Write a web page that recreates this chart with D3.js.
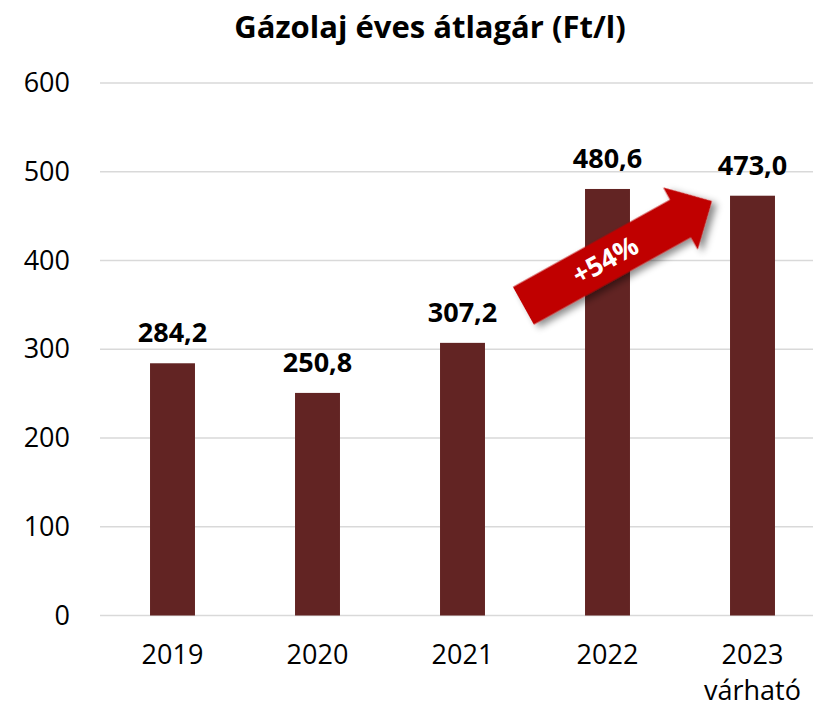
<!DOCTYPE html>
<html>
<head>
<meta charset="utf-8">
<script src="https://cdn.jsdelivr.net/npm/d3@7"></script>
<style>
  body { margin: 0; background: #fff; }
  svg text { font-family: "Open Sans", sans-serif; }
</style>
</head>
<body>
<div id="chart"></div>
<script>
// Chart data
var years = ['2019', '2020', '2021', '2022', '2023'];
var yearSub = ['', '', '', '', 'várható'];
var prices = [284.2, 250.8, 307.2, 480.6, 473.0];
var priceLabels = ['284,2', '250,8', '307,2', '480,6', '473,0'];
var yTicks = [0, 100, 200, 300, 400, 500, 600];
var arrowText = '+54%';
// arrow ends in data units: [year band, offset in steps, value]
var arrowFrom = ['2021', 0.42, 349];
var arrowTo = ['2023', -0.28, 467];

var width = 813, height = 707;

var svg = d3.select('#chart')
    .append('svg')
    .attr('width', width)
    .attr('height', height);

// Scales
var x = d3.scaleBand()
    .domain(years)
    .range([100, 825])
    .paddingInner(0.69)
    .paddingOuter(0.345);

var y = d3.scaleLinear()
    .domain([0, 600])
    .range([615.5, 83]);

// Title
svg.append('text')
    .attr('x', 430)
    .attr('y', 38)
    .attr('text-anchor', 'middle')
    .attr('font-size', 31)
    .attr('font-weight', 'bold')
    .text('Gázolaj éves átlagár (Ft/l)');

// Gridlines
svg.append('g')
    .selectAll('line')
    .data(yTicks)
    .enter()
    .append('line')
        .attr('x1', 100)
        .attr('x2', width)
        .attr('y1', function(d) { return y(d); })
        .attr('y2', function(d) { return y(d); })
        .attr('stroke', '#d9d9d9')
        .attr('stroke-width', 1.5);

// Y axis labels
var yAxis = d3.axisLeft(y).tickValues(yTicks).tickSize(0).tickPadding(0);
svg.append('g')
    .attr('transform', 'translate(70,0)')
    .call(yAxis)
    .call(function(g) { g.select('.domain').remove(); })
    .selectAll('text')
        .attr('font-size', 27)
        .attr('fill', '#000')
        .style('font-family', '"Open Sans", sans-serif');

// Bars
svg.append('g')
    .selectAll('rect')
    .data(prices)
    .enter()
    .append('rect')
        .attr('x', function(d, i) { return x(years[i]); })
        .attr('y', function(d) { return y(d); })
        .attr('width', x.bandwidth())
        .attr('height', function(d) { return y(0) - y(d); })
        .attr('fill', '#622423');

// Value labels
svg.append('g')
    .selectAll('text')
    .data(prices)
    .enter()
    .append('text')
        .attr('x', function(d, i) { return x(years[i]) + x.bandwidth() / 2; })
        .attr('y', function(d) { return y(d) - 21; })
        .attr('text-anchor', 'middle')
        .attr('font-size', 27)
        .attr('font-weight', 'bold')
        .text(function(d, i) { return priceLabels[i]; });

// X axis labels
svg.append('g')
    .selectAll('text')
    .data(years)
    .enter()
    .append('text')
        .attr('x', function(d) { return x(d) + x.bandwidth() / 2; })
        .attr('y', 664)
        .attr('text-anchor', 'middle')
        .attr('font-size', 27)
        .text(function(d) { return d; });
svg.append('g')
    .selectAll('text')
    .data(years.filter(function(d, i) { return yearSub[i]; }))
    .enter()
    .append('text')
        .attr('x', function(d) { return x(d) + x.bandwidth() / 2; })
        .attr('y', 700)
        .attr('text-anchor', 'middle')
        .attr('font-size', 27)
        .text(function(d) { return yearSub[years.indexOf(d)]; });

// Arrow annotation
var defs = svg.append('defs');
var filt = defs.append('filter')
    .attr('id', 'shadow')
    .attr('x', '-20%').attr('y', '-20%')
    .attr('width', '140%').attr('height', '160%');
filt.append('feDropShadow')
    .attr('dx', 3).attr('dy', 5)
    .attr('stdDeviation', 3.5)
    .attr('flood-color', '#000')
    .attr('flood-opacity', 0.45);

function pt(a) {
    return [x(a[0]) + x.bandwidth() / 2 + a[1] * x.step(), y(a[2])];
}
var p0 = pt(arrowFrom), p1 = pt(arrowTo);
var len = Math.hypot(p1[0] - p0[0], p1[1] - p0[1]);
var ang = Math.atan2(p1[1] - p0[1], p1[0] - p0[0]) * 180 / Math.PI;
var sw = 21.5, hw = 35.5, hl = 36;

var arrow = svg.append('g')
    .attr('transform', 'translate(' + p0[0] + ',' + p0[1] + ') rotate(' + ang + ')');
arrow.append('path')
    .attr('d', 'M0,' + (-sw) + 'L' + (len - hl) + ',' + (-sw) + 'L' + (len - hl) + ',' + (-hw) +
        'L' + len + ',0L' + (len - hl) + ',' + hw + 'L' + (len - hl) + ',' + sw + 'L0,' + sw + 'Z')
    .attr('fill', '#c00000')
    .attr('filter', 'url(#shadow)');
arrow.append('text')
    .attr('x', (len - hl) / 2 + 4)
    .attr('y', 0)
    .attr('dy', '0.35em')
    .attr('text-anchor', 'middle')
    .attr('font-size', 27)
    .attr('font-weight', 'bold')
    .attr('fill', '#fff')
    .text(arrowText);
</script>
</body>
</html>
